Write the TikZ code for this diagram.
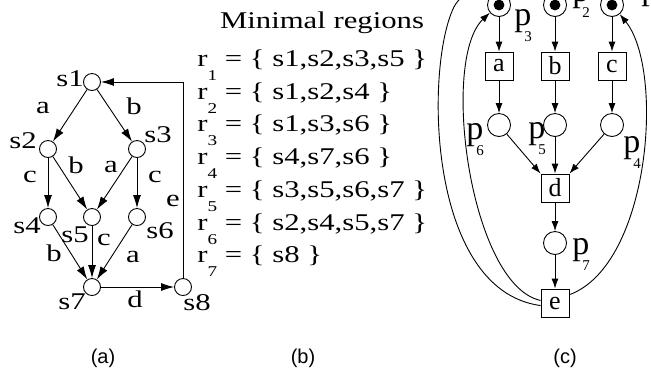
\documentclass[tikz,border=0pt]{standalone}
\usepackage{fontspec}
\setmainfont{Liberation Serif}
\newfontfamily\widefont[FakeStretch=1.28]{Liberation Serif}
\newfontfamily\capfont{Liberation Sans}
\usetikzlibrary{arrows.meta}

% region and place names with a dropped index
\newcommand{\regname}[1]{r\raisebox{-7pt}{\fontsize{7.5}{8}\selectfont #1}}
\newcommand{\plname}[1]{p\kern-3.5pt\raisebox{-8pt}{\fontsize{7.5}{8}\selectfont #1}}

\begin{document}
\begin{tikzpicture}[x=0.5pt,y=-0.5pt,line width=0.45pt,
  state/.style={circle,draw,minimum size=8.5pt,inner sep=0pt},
  place/.style={circle,draw,minimum size=11.5pt,inner sep=0pt},
  trans/.style={rectangle,draw,minimum size=14pt,inner sep=0pt,font=\fontsize{13}{14}\selectfont},
  flow/.style={-{Latex[length=6.5pt,width=4pt]}},
  netflow/.style={-{Latex[length=5pt,width=3.5pt]}},
  lab/.style={inner sep=0pt,font=\widefont\fontsize{12}{14}\selectfont},
  plab/.style={inner sep=0pt,anchor=base west,font=\fontsize{17}{18}\selectfont},
  captext/.style={inner sep=0pt,font=\capfont\fontsize{10}{12}\selectfont}]
  \useasboundingbox (0,0) rectangle (651,377);
  \clip (0,0) rectangle (651,377);

  % (a) transition system
  \node[state] (s1) at (92,82) {};
  \node[state] (s2) at (48,149) {};
  \node[state] (s3) at (137,149) {};
  \node[state] (s4) at (48,217) {};
  \node[state] (s5) at (92,217) {};
  \node[state] (s6) at (137,217) {};
  \node[state] (s7) at (92,287) {};
  \node[state] (s8) at (183,287) {};
  \node[lab] (n1) at (70,79) {s1};
  \node[lab] (n2) at (23,141) {s2};
  \node[lab] (n3) at (158,135) {s3};
  \node[lab] (n4) at (27,226) {s4};
  \node[lab] (n5) at (75,235) {s5};
  \node[lab] (n6) at (160,231) {s6};
  \node[lab] (n7) at (72,302) {s7};
  \node[lab] (n8) at (197,303) {s8};
  \draw[flow] (s1) -- (s2);
  \draw[flow] (s1) -- (s3);
  \draw[flow] (s2) -- (s4);
  \draw[flow] (s2) -- (s5);
  \draw[flow] (s3) -- (s5);
  \draw[flow] (s3) -- (s6);
  \draw[flow] (s4) -- (s7);
  \draw[flow] (s5) -- (s7);
  \draw[flow] (s6) -- (s7);
  \draw[flow] (s7) -- (s8);
  \draw[flow] (s8) |- (s1);
  \node[lab] (l1) at (43,108) {a};
  \node[lab] (l2) at (134,106) {b};
  \node[lab] (l3) at (30,177) {c};
  \node[lab] (l4) at (76,165) {b};
  \node[lab] (l5) at (111,167) {a};
  \node[lab] (l6) at (155,177) {c};
  \node[lab] (l7) at (173,201) {e};
  \node[lab] (l8) at (54,253) {b};
  \node[lab] (l9) at (104,240) {c};
  \node[lab] (l10) at (133,257) {a};
  \node[lab] (l11) at (135,299) {d};

  % (b) regions
  \node[lab] (title) at (322,23) {Minimal regions};
  \foreach \i/\set [count=\k from 0] in {1/{s1,s2,s3,s5},2/{s1,s2,s4},3/{s1,s3,s6},
      4/{s4,s7,s6},5/{s3,s5,s6,s7},6/{s2,s4,s5,s7},7/{s8}}
    \node[lab,anchor=base west] (r\i) at (197,{66.5+32.7*\k}) {\regname{\i} = \{ \set\ \}};

  % (c) net
  \node[place] (p3) at (499,5) {};
  \node[place] (p2) at (555,5) {};
  \node[place] (p1) at (612,5) {};
  \foreach \p in {p1,p2,p3}
    \fill (\p) circle[radius=2.7pt];
  \node[trans] (a) at (499,66) {a};
  \node[trans] (b) at (555,66) {b};
  \node[trans] (c) at (612,66) {c};
  \node[place] (p6) at (499,125) {};
  \node[place] (p5) at (555,125) {};
  \node[place] (p4) at (612,125) {};
  \node[trans] (d) at (555,188) {d};
  \node[place] (p7) at (555,243) {};
  \node[trans] (e) at (555,303) {e};
  \node[plab] (lp3) at (514,25) {\plname{3}};
  \node[plab] (lp2) at (572,1) {\plname{2}};
  \node[plab] (lp1) at (641,-1) {\plname{1}};
  \node[plab] (lp6) at (466,139) {\plname{6}};
  \node[plab] (lp5) at (528,138) {\plname{5}};
  \node[plab] (lp4) at (623,152) {\plname{4}};
  \node[plab] (lp7) at (572,254) {\plname{7}};
  \draw[netflow] (p3) -- (a);
  \draw[netflow] (p2) -- (b);
  \draw[netflow] (p1) -- (c);
  \draw[netflow] (a) -- (p6);
  \draw[netflow] (b) -- (p5);
  \draw[netflow] (c) -- (p4);
  \draw[netflow] (p6) -- (d.north west);
  \draw[netflow] (p5) -- (d);
  \draw[netflow] (p4) -- (d.north east);
  \draw[netflow] (d) -- (p7);
  \draw[netflow] (p7) -- (e);
  \draw[netflow] (e.170) .. controls (470,285) and (440,60) .. (p3.-140);
  \draw[netflow] (e.190) .. controls (425,290) and (425,60) .. (455,5)
    .. controls (475,-25) and (530,-30) .. (p2.120);
  \draw[netflow] (e.30) .. controls (650,265) and (665,70) .. (p1.-50);

  \node[captext] (capa) at (103,358) {(a)};
  \node[captext] (capb) at (303,358) {(b)};
  \node[captext] (capc) at (565,358) {(c)};
\end{tikzpicture}
\end{document}
